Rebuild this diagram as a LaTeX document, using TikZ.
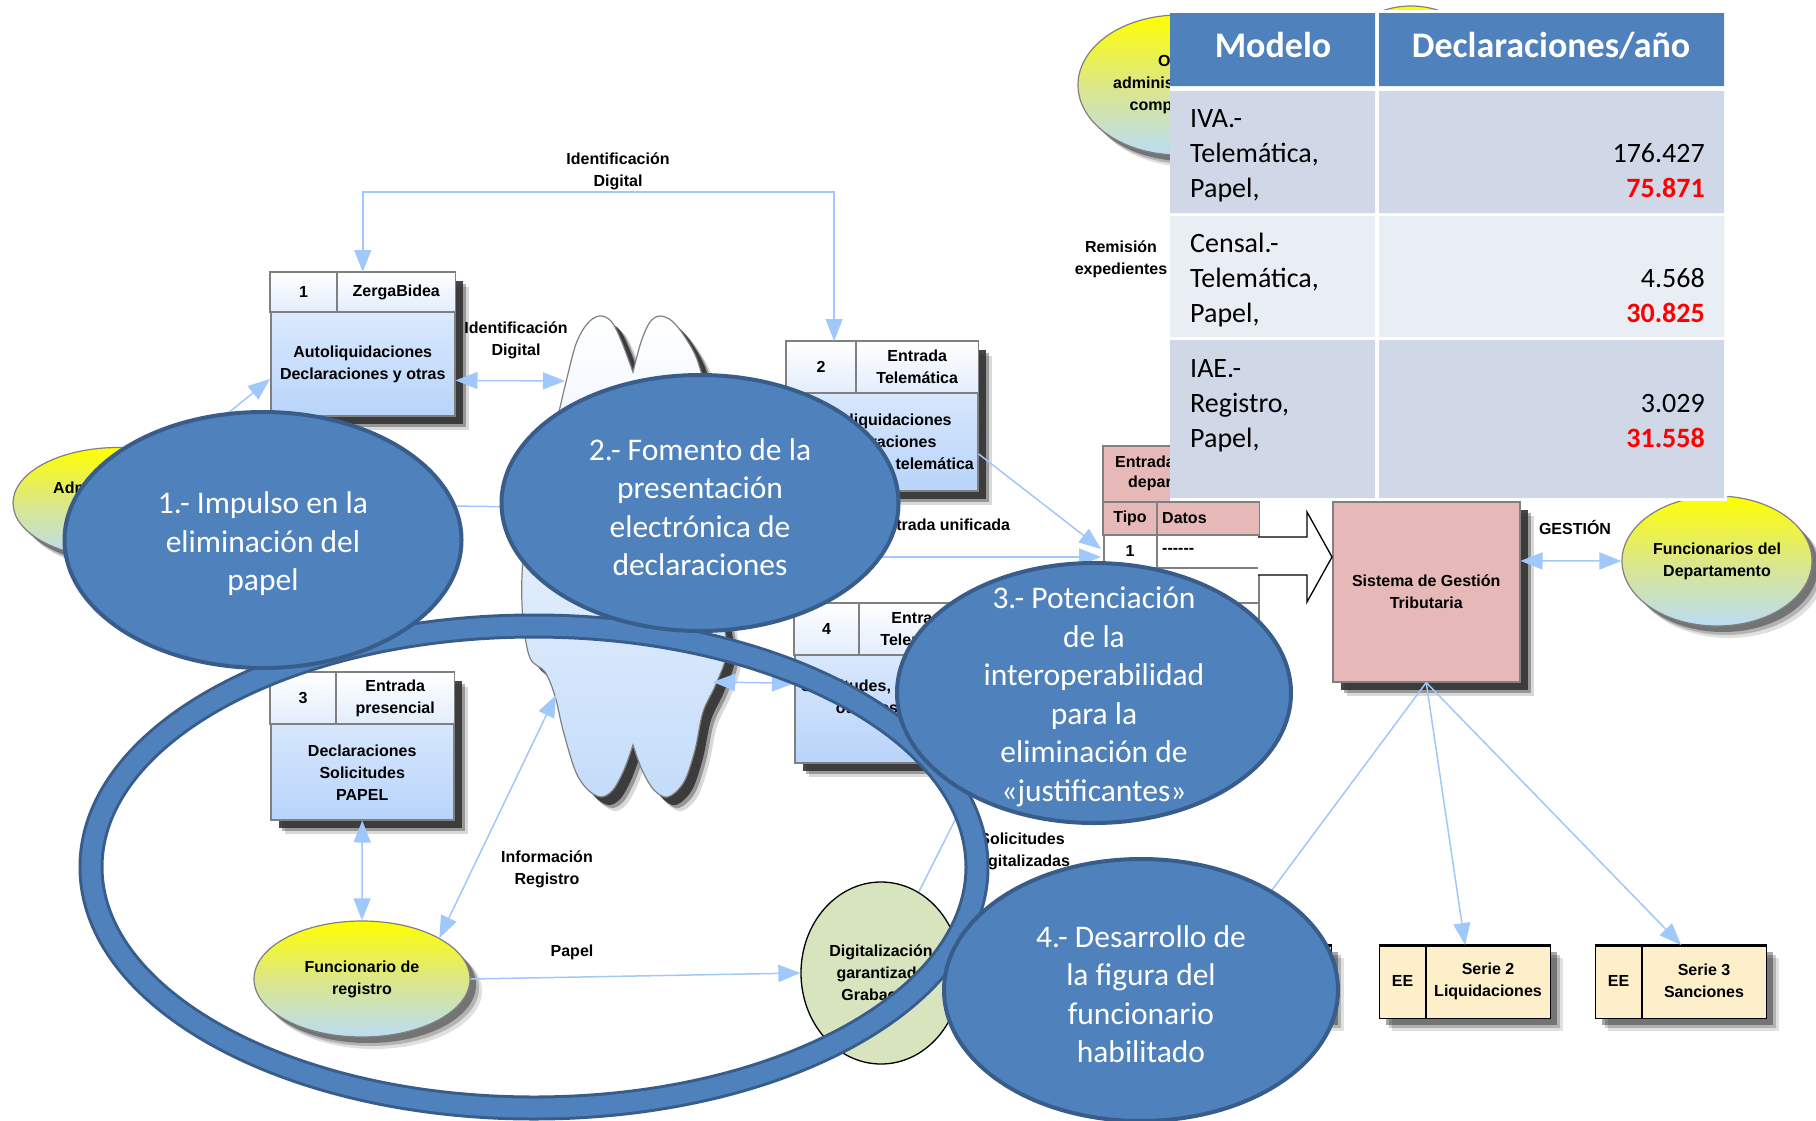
\documentclass[tikz,border=0pt]{standalone}
\usepackage{fontspec}
\setmainfont{Liberation Sans}
\newfontfamily\calfont{Carlito}
\usetikzlibrary{arrows.meta,calc,shapes.geometric}

\definecolor{ellblue}{RGB}{79,129,189}
\definecolor{elldark}{RGB}{56,93,138}
\definecolor{flowblue}{RGB}{160,200,250}
\definecolor{boxline}{RGB}{128,128,128}
\definecolor{headbot}{RGB}{226,237,252}
\definecolor{bodytop}{RGB}{232,241,254}
\definecolor{bodybot}{RGB}{184,212,250}
\definecolor{pinkfill}{RGB}{230,185,184}
\definecolor{creamfill}{RGB}{253,239,202}
\definecolor{olivefill}{RGB}{215,228,189}
\definecolor{rowa}{RGB}{208,216,232}
\definecolor{rowb}{RGB}{233,237,244}
\definecolor{ytop}{RGB}{255,255,0}
\definecolor{ymid}{RGB}{220,231,135}
\definecolor{ybot}{RGB}{186,220,244}
\definecolor{cloudbot}{RGB}{196,220,250}
\definecolor{numred}{RGB}{255,0,0}

\tikzset{
  lbl/.style={font=\fontsize{16}{22}\selectfont\bfseries, align=center, inner sep=0pt},
  bigtxt/.style={font=\calfont\fontsize{31.5}{38.5}\selectfont, text=white, align=center,
    inner sep=0pt, yshift=-4pt},
  tabtxt/.style={font=\calfont\fontsize{28}{35}\selectfont, inner sep=0pt},
  tabred/.style={font=\calfont\fontsize{28}{35}\selectfont\bfseries, text=numred, inner sep=0pt},
  tabhead/.style={font=\calfont\fontsize{36}{40}\selectfont\bfseries, text=white, inner sep=0pt},
  boxshadow/.style={
    preaction={fill=black, opacity=.15, transform canvas={shift={(14pt,-14pt)}}},
    preaction={fill=black, opacity=.3, transform canvas={shift={(11pt,-11pt)}}},
    preaction={fill=black!80, opacity=.9, transform canvas={shift={(8pt,-8pt)}}}},
  softshadow/.style={
    preaction={fill=black, opacity=.12, transform canvas={shift={(12pt,-12pt)}}},
    preaction={fill=black, opacity=.2, transform canvas={shift={(9pt,-9pt)}}},
    preaction={fill=black, opacity=.35, transform canvas={shift={(6pt,-6pt)}}}},
  procbody/.style={rectangle, draw=boxline, line width=1.5pt, top color=bodytop,
    bottom color=bodybot, inner sep=0pt, anchor=north west, boxshadow},
  headcell/.style={draw=boxline, line width=1.5pt, top color=white, bottom color=headbot},
  flow/.style={draw=flowblue, line width=1.5pt, -{Triangle[length=22pt,width=17pt]}},
  flow2/.style={draw=flowblue, line width=1.5pt,
    {Triangle[length=22pt,width=17pt]}-{Triangle[length=22pt,width=17pt]}},
  yell/.style={ellipse, draw=boxline, line width=1.2pt, top color=ytop, bottom color=ybot,
    middle color=ymid, inner sep=0pt, softshadow},
  bigell/.style={ellipse, draw=elldark, line width=4pt, fill=ellblue, inner sep=0pt},
  eebox/.style={rectangle, draw=black, line width=1.2pt, fill=creamfill, inner sep=0pt,
    anchor=north west, minimum width=171pt, minimum height=73pt, softshadow},
}

% header row (number | title) and body text of a process box
\newcommand\boxhead[6]{%
  \coordinate (#1-hl) at ($(#1.north west)+(0,#2)$);
  \coordinate (#1-hr) at ($(#1.north east)+(0,#2)$);
  \coordinate (#1-d) at ($(#1.north west)+(#3,#2)$);
  \path[headcell] (#1.north west) rectangle (#1-d);
  \path[headcell] (#1.north west -| #1-d) rectangle (#1-hr);
  \node[lbl] (#1-num) at ($(#1.north west)!0.5!(#1-d)$) {#4};
  \node[lbl] (#1-ttl) at ($(#1.north west -| #1-d)!0.5!(#1-hr)$) {#5};
  \node[lbl] (#1-txt) at ($(#1-hl)!0.5!(#1.south east)$) {#6};
}

% outline of the central store shape
\newcommand\cloudoutline{plot[smooth,tension=.55] coordinates {(633,372) (641,342) (650,322) (660,316) (672,321) (685,337) (698,362) (710,410) (716,470) (718,540) (720,600) (727,650) (716,684) (703,712) (695,750) (684,782) (668,797) (654,790) (642,770) (633,745)} -- plot[smooth,tension=.55] coordinates {(633,745) (624,770) (613,790) (601,797) (587,789) (575,770) (563,730) (555,696) (545,672) (530,658) (523,620) (522,575) (527,525) (540,475) (555,427) (566,382) (576,344) (587,324) (599,316) (611,321) (621,340) (633,372)} -- cycle}

\begin{document}
\begin{tikzpicture}[x=1pt,y=-1pt]
\path[use as bounding box, fill=white] (0,0) rectangle (1816,1120);

% ---------- external entities ----------
\node[yell, minimum width=210pt, minimum height=111pt] (adm) at (118,503) {};
\node[lbl, anchor=west] (adm-t) at (53,488) {Administrados};
\node[yell, minimum width=150pt, minimum height=128pt] (hid) at (1411,70) {};
\node[yell, minimum width=202pt, minimum height=140pt] (otr) at (1179,85) {};
\node[lbl] (otr-t) at (1179,85) {Otras\\administraciones\\competentes};
\node[yell, minimum width=216pt, minimum height=116pt] (fr) at (362,979) {};
\node[lbl] (fr-t) at (fr) {Funcionario de\\registro};
\node[yell, minimum width=190pt, minimum height=130pt] (fdd) at (1717,561) {};
\node[lbl] (fdd-t) at (fdd) {Funcionarios del\\Departamento};

% ---------- central store ----------
\path[boxshadow, draw=boxline, line width=1.2pt, top color=white, bottom color=cloudbot] \cloudoutline;
\coordinate (cl-nw) at (565,381);
\coordinate (cl-w) at (527,507);
\coordinate (cl-sw) at (556,695);
\coordinate (cl-e) at (713,682);
\coordinate (cl-out) at (716,557);

% ---------- process boxes ----------
\node[procbody, minimum width=184pt, minimum height=143pt] (b1) at (270,272) {};
\boxhead{b1}{40}{67}{1}{ZergaBidea}{Autoliquidaciones\\Declaraciones y otras}
\node[procbody, minimum width=191pt, minimum height=149pt] (b2) at (786,341) {};
\boxhead{b2}{52}{70}{2}{Entrada\\Telemática}{Autoliquidaciones\\Declaraciones\\Presentación telemática}
\node[procbody, minimum width=183pt, minimum height=147pt] (b3) at (270,672) {};
\boxhead{b3}{52}{66}{3}{Entrada\\presencial}{Declaraciones\\Solicitudes\\PAPEL}
\node[procbody, minimum width=188pt, minimum height=159pt] (b4) at (794,603) {};
\boxhead{b4}{52}{65}{4}{Entrada\\Telemática}{}
\node[lbl] (b4-body) at ($(b4-hl)!0.5!(b4.south east)+(0,-12)$) {Solicitudes, recursos y\\otros escritos};

% ---------- department entry table ----------
\node[rectangle, draw=boxline, line width=1.5pt, fill=white, minimum width=155pt,
  minimum height=230pt, anchor=north west, inner sep=0pt] (dt) at (1103,446) {};
\path[draw=boxline, fill=pinkfill, line width=1.5pt] (dt.north west) rectangle ($(dt.north east)+(0,56)$);
\path[draw=boxline, fill=pinkfill, line width=1.5pt] ($(dt.north west)+(0,56)$) rectangle ($(dt.north east)+(0,89)$);
\foreach \r in {122,157,192} {\draw[boxline, line width=1.5pt] ($(dt.north west)+(0,\r)$) -- ($(dt.north east)+(0,\r)$);}
\draw[boxline, line width=1.5pt] ($(dt.north west)+(54,56)$) -- ($(dt.south west)+(54,0)$);
\node[lbl, anchor=west] (dt-h1) at (1115,462) {Entrada};
\node[lbl, anchor=west] (dt-h2) at (1128,483) {departamento};
\node[lbl] (dt-tipo) at (1130,518) {Tipo};
\node[lbl, anchor=west] (dt-datos) at (1162,518) {Datos};
\node[lbl] (dt-one) at (1130,551) {1};
\node[lbl, anchor=west] (dt-dash) at (1162,551) {-{}-{}-{}-{}-{}-};

% ---------- tax management system ----------
\node[rectangle, draw=boxline, line width=1.5pt, fill=pinkfill, minimum width=187pt,
  minimum height=180pt, anchor=north west, inner sep=0pt, boxshadow] (sgt) at (1332,501) {};
\node[lbl] (sgt-t) at (sgt) {Sistema de Gestión\\Tributaria};
\draw[line width=1.3pt, fill=white, line join=miter] (1258,537) -- (1307,537) -- (1307,512)
  -- (1332,557) -- (1307,602) -- (1307,575) -- (1258,575);

% ---------- record series ----------
\node[eebox] (s1) at (1160,945) {};
\node[eebox] (s2) at (1379,945) {};
\node[eebox] (s3) at (1595,945) {};
\foreach \b in {s1,s2,s3} {
  \draw[line width=3pt] (\b.north west) -- (\b.north east);
  \draw[line width=1.2pt] ($(\b.north west)+(47,0)$) -- ($(\b.south west)+(47,0)$);
}
\node[lbl] (s2-ee) at (1402.5,981) {EE};
\node[lbl] (s2-t) at (1488,981) {Serie 2\\Liquidaciones};
\node[lbl] (s3-ee) at (1618.5,981) {EE};
\node[lbl] (s3-t) at (1704,981) {Serie 3\\Sanciones};

% ---------- scanning ----------
\node[ellipse, draw=black, line width=1.3pt, fill=olivefill, inner sep=0pt,
  minimum width=160pt, minimum height=182pt] (dig) at (881,973) {};
\node[lbl] (dig-t) at (dig) {Digitalización\\garantizada\\Grabación};

% ---------- flows ----------
\coordinate (idtop) at (600,192);
\draw[flow2] (b1.north) |- (idtop) -| ($(b2.north west)!0.25!(b2.north east)$);
\draw[flow] (adm) -- ($(b1.south west)!0.26!(b1.north west)$);
\draw[flow] (adm.east) -- (cl-w);
\draw[flow2] ($(b1.north east)!0.75!(b1.south east)$) -- (cl-nw);
\draw[flow] ($(b2.north east)!0.75!(b2.south east)$) -- ($(dt.north west)+(-2,103)$);
\draw[flow] (cl-out) -- ($(dt.north west)+(-2,111)$);
\draw[flow2] (cl-e) -- (b4.west);
\draw[flow2] (b3.south) -- (fr.north);
\draw[flow2] (fr.28) -- (cl-sw);
\draw[flow] (fr.east) -- (dig.west);
\draw[flow] (dig.65) -- (b4.south east);
\draw[flow2] ($(sgt.north east)!0.33!(sgt.south east)$) -- (fdd.west);
\draw[flow] (sgt.south) -- ($(s1.north)+(-15,0)$);
\draw[flow] (sgt.south) -- (s2.north);
\draw[flow] (sgt.south) -- (s3.north);

% ---------- flow labels ----------
\node[lbl] (l-id1) at (618,171) {Identificación\\Digital};
\node[lbl] (l-id2) at (516,340) {Identificación\\Digital};
\node[lbl] (l-uni) at (943,525) {Entrada unificada};
\node[lbl] (l-reg) at (547,869) {Información\\Registro};
\node[lbl] (l-pap) at (572,952) {Papel};
\node[lbl] (l-sol) at (1022,851) {Solicitudes\\digitalizadas};
\node[lbl] (l-rem) at (1121,259) {Remisión\\expedientes};
\node[lbl] (l-ges) at (1575,527) {GESTIÓN};

% ---------- highlight ring ----------
\node[ellipse, draw=elldark, double=ellblue, double distance=19pt, line width=3pt,
  minimum width=886pt, minimum height=482pt, inner sep=0pt] (ring) at (534,867) {};

% ---------- key actions ----------
\node[bigell, minimum width=397pt, minimum height=256pt] (e1) at (263,540) {};
\node[bigtxt] (e1-t) at (e1) {1.- Impulso en la\\eliminación del\\papel};
\node[bigell, minimum width=397pt, minimum height=256pt] (e2) at (700,503) {};
\node[bigtxt] (e2-t) at (e2) {2.- Fomento de la\\presentación\\electrónica de\\declaraciones};
\node[bigell, minimum width=394pt, minimum height=260pt] (e3) at (1094,693) {};
\node[bigtxt] (e3-t) at (e3) {3.- Potenciación\\de la\\interoperabilidad\\para la\\eliminación de\\«justificantes»};
\node[bigell, minimum width=394pt, minimum height=262pt] (e4) at (1141,990) {};
\node[bigtxt] (e4-t) at (e4) {4.- Desarrollo de\\la figura del\\funcionario\\habilitado};

% ---------- yearly declarations table ----------
\path[fill=white] (1170,10) rectangle (1727,501);
\path[fill=ellblue] (1170,13) rectangle (1375,86) (1379,13) rectangle (1724,86);
\path[fill=rowa] (1170,91) rectangle (1375,213) (1379,91) rectangle (1724,213);
\path[fill=rowb] (1170,216) rectangle (1375,337) (1379,216) rectangle (1724,337);
\path[fill=rowa] (1170,340) rectangle (1375,498) (1379,340) rectangle (1724,498);
\node[tabhead, anchor=base] (th1) at (1273,57) {Modelo};
\node[tabhead, anchor=base] (th2) at (1551,57) {Declaraciones/año};

\node[tabtxt, anchor=base west] (r1a) at (1190,127) {IVA.-};
\node[tabtxt, anchor=base west] (r1b) at (1190,162) {Telemática,};
\node[tabtxt, anchor=base west] (r1c) at (1190,197) {Papel,};
\node[tabtxt, anchor=base east] (r1n) at (1705,162) {176.427};
\node[tabred, anchor=base east] (r1p) at (1705,197) {75.871};

\node[tabtxt, anchor=base west] (r2a) at (1190,252) {Censal.-};
\node[tabtxt, anchor=base west] (r2b) at (1190,287) {Telemática,};
\node[tabtxt, anchor=base west] (r2c) at (1190,322) {Papel,};
\node[tabtxt, anchor=base east] (r2n) at (1705,287) {4.568};
\node[tabred, anchor=base east] (r2p) at (1705,322) {30.825};

\node[tabtxt, anchor=base west] (r3a) at (1190,377) {IAE.-};
\node[tabtxt, anchor=base west] (r3b) at (1190,412) {Registro,};
\node[tabtxt, anchor=base west] (r3c) at (1190,447) {Papel,};
\node[tabtxt, anchor=base east] (r3n) at (1705,412) {3.029};
\node[tabred, anchor=base east] (r3p) at (1705,447) {31.558};
\end{tikzpicture}
\end{document}
